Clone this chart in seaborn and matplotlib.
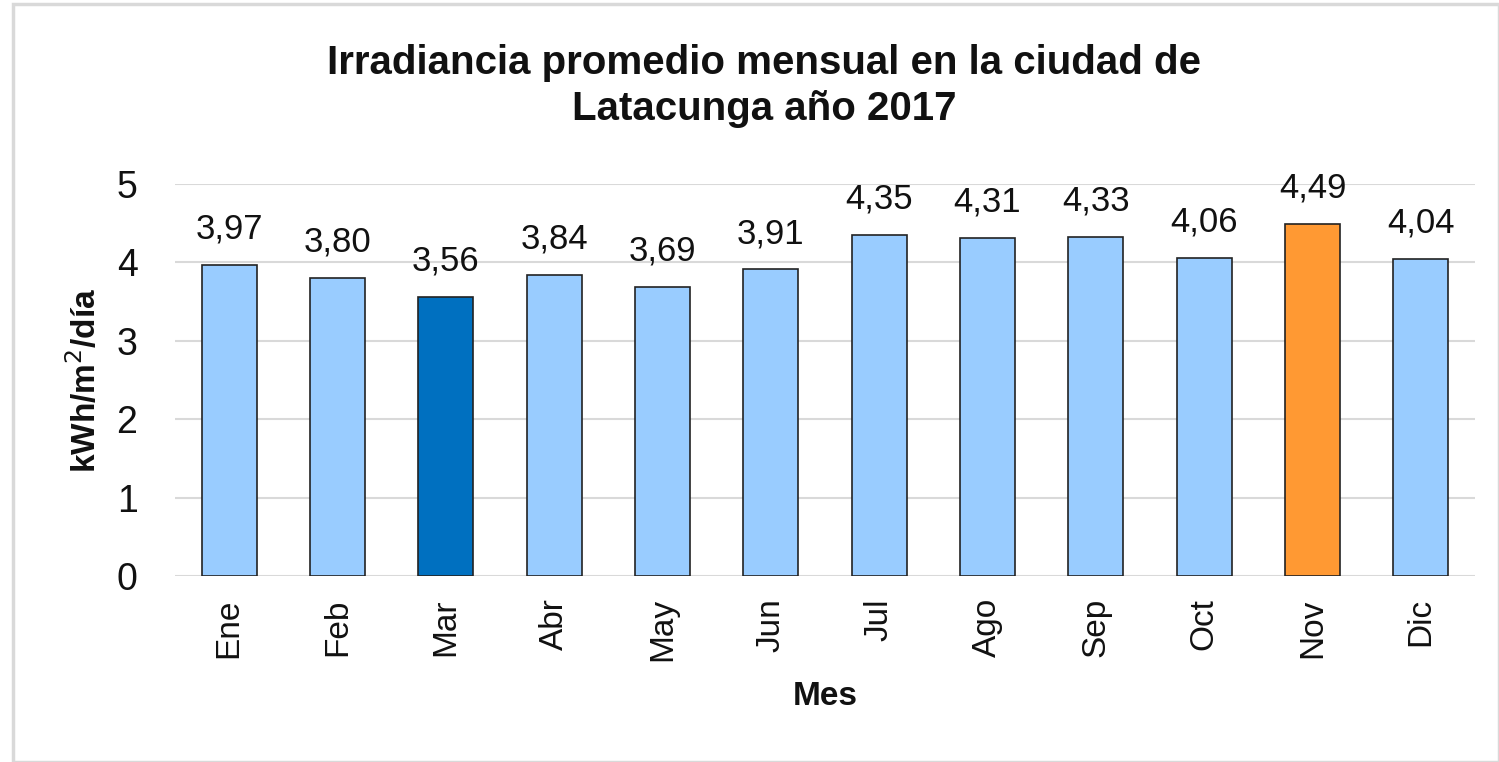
import matplotlib
matplotlib.use("Agg")
import matplotlib.pyplot as plt
import seaborn as sns
import pandas as pd
from matplotlib.patches import Rectangle

# --- DATA ---
meses = ['Ene', 'Feb', 'Mar', 'Abr', 'May', 'Jun', 'Jul', 'Ago', 'Sep', 'Oct', 'Nov', 'Dic']
irradiancia = [3.97, 3.80, 3.56, 3.84, 3.69, 3.91, 4.35, 4.31, 4.33, 4.06, 4.49, 4.04]
y_ticks = [0, 1, 2, 3, 4, 5]

# colours: min month dark blue, max month orange, rest light blue
LIGHT = '#99CCFF'
MIN_C = '#0070C0'
MAX_C = '#FF9933'
colores = []
for v in irradiancia:
    if v == min(irradiancia):
        colores.append(MIN_C)
    elif v == max(irradiancia):
        colores.append(MAX_C)
    else:
        colores.append(LIGHT)

df = pd.DataFrame({'Mes': meses, 'valor': irradiancia})

sns.set_style('white')
plt.rcParams['font.family'] = ['Liberation Sans', 'DejaVu Sans']

fig = plt.figure(figsize=(14.99, 7.62), dpi=100)
ax = fig.add_axes([175 / 1499, 1 - 576 / 762, 1300 / 1499, 392 / 762])

sns.barplot(data=df, x='Mes', y='valor', hue='Mes', palette=dict(zip(meses, colores)),
            order=meses, width=0.51, saturation=1, edgecolor='#222222', linewidth=1.2,
            legend=False, ax=ax, zorder=3)

# data labels
for cont in ax.containers:
    ax.bar_label(cont, labels=[f'{b.get_height():.2f}'.replace('.', ',') for b in cont],
                 padding=14, fontsize=25, color='#111111')

ax.set_ylim(0, 5)
ax.set_xlim(-0.5, len(meses) - 0.5)
ax.set_yticks(y_ticks)
ax.set_yticklabels([str(t) for t in y_ticks], fontsize=27, color='#111111')
ax.tick_params(axis='y', length=0, pad=27)
ax.tick_params(axis='x', length=0, pad=16, labelsize=24, labelcolor='#111111', rotation=90)
ax.yaxis.grid(True, color='#D9D9D9', linewidth=1.5, zorder=0)
ax.set_axisbelow(True)
for s in ax.spines.values():
    s.set_visible(False)

ax.set_ylabel('kWh/m$^{2}$/día', fontsize=24, fontweight='bold', labelpad=10, color='#111111')
ax.set_xlabel('Mes', fontsize=24, fontweight='bold', labelpad=14, color='#111111')

fig.text(0.51, 1 - 86 / 762, 'Irradiancia promedio mensual en la ciudad de\nLatacunga año 2017',
         ha='center', va='center', fontsize=29, fontweight='bold', linespacing=1.3,
         color='#111111')

# outer chart border
fig.patches.append(Rectangle((13 / 1499, 0.0), 1 - 13 / 1499, 1 - 4 / 762,
                             transform=fig.transFigure, fill=False,
                             edgecolor='#D9D9D9', linewidth=2.5))

fig.savefig('out.png', dpi=100)
